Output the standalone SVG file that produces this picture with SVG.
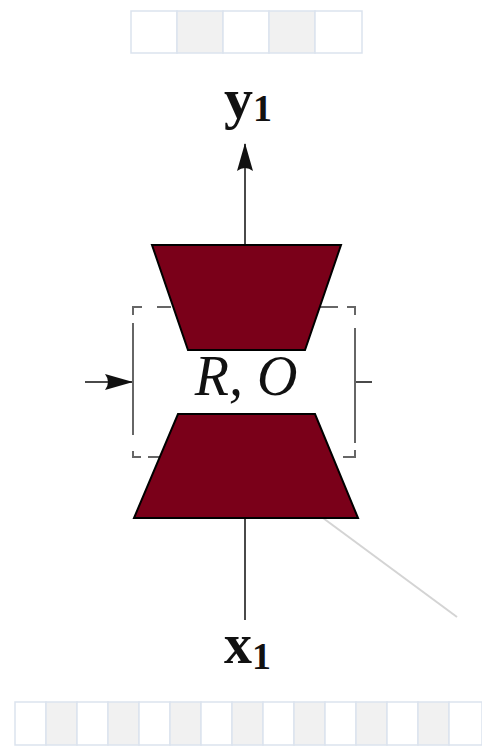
<svg xmlns="http://www.w3.org/2000/svg" width="482" height="747" viewBox="0 0 482 747">
<defs>
<style>
.cell{stroke:#dbe3ee;stroke-width:1.5}
.w{fill:#ffffff}
.g{fill:#f1f1f1}
.trap{fill:#7a0019;stroke:#000;stroke-width:2;stroke-linejoin:miter}
.ln{stroke:#4a4a4a;stroke-width:2;fill:none}
.dash{stroke:#666;stroke-width:2;fill:none}
.lbl{font-family:'Liberation Serif','Times New Roman',serif;font-weight:bold;fill:#111}
.it{font-family:'Liberation Serif','Times New Roman',serif;font-style:italic;fill:#111}
</style>
<marker id="ah" viewBox="0 0 28 16" refX="27" refY="8" markerWidth="28" markerHeight="16" markerUnits="userSpaceOnUse" orient="auto">
<path d="M0,0 L28,8 L0,16 Q6,8 0,0 Z" fill="#111"/>
</marker>
</defs>
<g id="top-strip">
<rect class="cell w" x="131" y="11" width="46" height="42"/>
<rect class="cell g" x="177" y="11" width="46" height="42"/>
<rect class="cell w" x="223" y="11" width="46" height="42"/>
<rect class="cell g" x="269" y="11" width="46" height="42"/>
<rect class="cell w" x="315" y="11" width="47" height="42"/>
</g>
<g id="bottom-strip">
<rect class="cell w" x="15" y="702" width="31" height="43"/>
<rect class="cell g" x="46" y="702" width="31" height="43"/>
<rect class="cell w" x="77" y="702" width="31" height="43"/>
<rect class="cell g" x="108" y="702" width="31" height="43"/>
<rect class="cell w" x="139" y="702" width="31" height="43"/>
<rect class="cell g" x="170" y="702" width="31" height="43"/>
<rect class="cell w" x="201" y="702" width="31" height="43"/>
<rect class="cell g" x="232" y="702" width="31" height="43"/>
<rect class="cell w" x="263" y="702" width="31" height="43"/>
<rect class="cell g" x="294" y="702" width="31" height="43"/>
<rect class="cell w" x="325" y="702" width="31" height="43"/>
<rect class="cell g" x="356" y="702" width="31" height="43"/>
<rect class="cell w" x="387" y="702" width="31" height="43"/>
<rect class="cell g" x="418" y="702" width="31" height="43"/>
<rect class="cell w" x="449" y="702" width="33" height="43"/>
</g>
<g id="connectors">
<line class="ln" x1="245" y1="245" x2="245" y2="144" marker-end="url(#ah)"/>
<line class="ln" x1="245" y1="518" x2="245" y2="620"/>
<line class="ln" x1="85" y1="382" x2="132" y2="382" marker-end="url(#ah)"/>
<line class="ln" x1="356" y1="382" x2="372" y2="382"/>
<line x1="323" y1="518" x2="457" y2="617" stroke="#d4d4d4" stroke-width="2"/>
</g>
<g id="box">
<path class="dash" d="M133,315 V307 H142 M157,307 H171 M320,307 H338 M347,307 H355 V315 M133,323 V435 M355,328 V443 M133,451 V457 H141 M148,457 H162 M343,457 H355 V450"/>
</g>
<g id="decoder">
<polygon class="trap" points="152,245 341,245 305,350 188,350"/>
</g>
<g id="encoder">
<polygon class="trap" points="178,414 315,414 358,518 134,518"/>
</g>
<g id="label-RO">
<text class="it" x="246" y="395" font-size="56" text-anchor="middle">R, O</text>
</g>
<g id="y1">
<text class="lbl" x="224" y="118" font-size="58">y<tspan font-size="38" dy="3">1</tspan></text>
</g>
<g id="x1">
<text class="lbl" x="224" y="663" font-size="56">x<tspan font-size="38" dy="6">1</tspan></text>
</g>
</svg>
